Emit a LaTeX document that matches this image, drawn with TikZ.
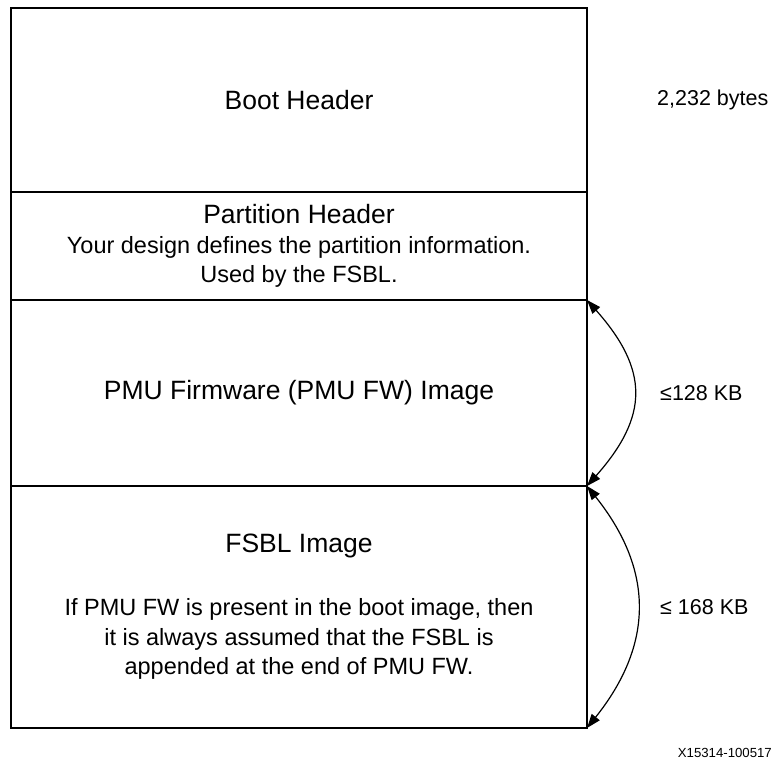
\documentclass[tikz,border=0pt]{standalone}
\usepackage{fontspec}
\setmainfont{Liberation Sans}
\usetikzlibrary{positioning,arrows.meta}
\newcommand\bodysize{\fontsize{23.5}{29.5}\selectfont}
\newcommand\titlesize{\fontsize{26.5}{32}\selectfont}

\begin{document}
\begin{tikzpicture}[x=1pt, y=-1pt, >={Triangle[length=14pt,width=10pt]}, node distance=0pt,
          region/.style={draw, line width=2.8pt, minimum width=576pt, outer sep=0pt, inner sep=0pt, align=center, font=\bodysize},
          size/.style={font=\fontsize{21.5}{26}\selectfont, anchor=west, inner sep=0pt},
          span/.style={<->, line width=1.2pt}]
        \useasboundingbox (0,0) rectangle (773,764);
        \node[region, minimum height=184pt, anchor=north west] (boot) at (11,8) {\titlesize Boot Header};
        \node[region, minimum height=108pt, below=of boot] (part) {{\titlesize Partition Header}\\ Your design defines the partition information.\\ Used by the FSBL.};
        \node[region, minimum height=186pt, below=of part] (pmu) {\titlesize PMU Firmware (PMU FW) Image};
        \node[region, minimum height=242pt, below=of pmu] (fsbl) {{\titlesize FSBL Image}\\[33.5pt] If PMU FW is present in the boot image, then\\ it is always assumed that the FSBL is\\ appended at the end of PMU FW.};
        % sizes on the right
        \node[size, right=70pt of boot] (bootsize) {2,232 bytes};
        \node[size, right=73pt of pmu] (pmusize) {≤128 KB};
        \node[size, right=73pt of fsbl] (fsblsize) {≤ 168 KB};
        \draw[span] (pmu.north east) .. controls +(62,70) and +(62,-70) .. (pmu.south east);
        \draw[span] (fsbl.north east) .. controls +(67,84) and +(67,-84) .. (fsbl.south east);
        \node[anchor=east, inner sep=0pt, font=\fontsize{13.2}{16}\selectfont] (fig) at (772,753) {X15314-100517};
      \end{tikzpicture}
\end{document}
